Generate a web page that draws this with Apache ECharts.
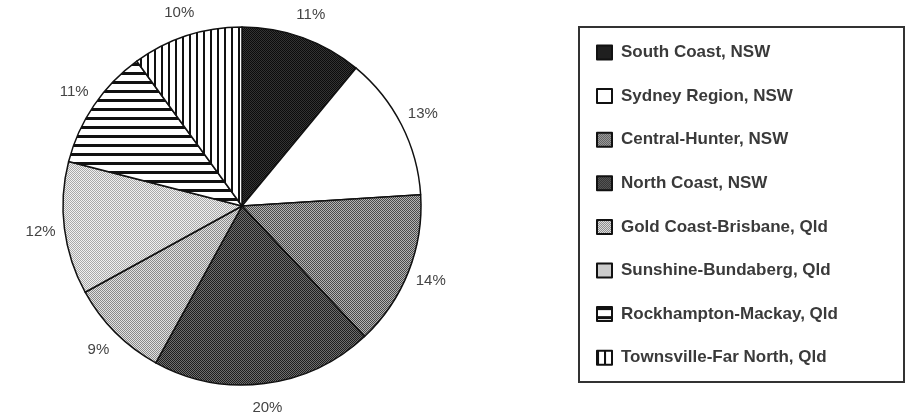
<!DOCTYPE html>
<html>
<head>
<meta charset="UTF-8">
<title>Regions</title>
<script src="https://cdn.jsdelivr.net/npm/echarts@6/dist/echarts.min.js"></script>
<style>
  html, body { margin: 0; padding: 0; background: #fff; }
  #main { width: 908px; height: 414px; }
</style>
</head>
<body>
<div id="main"></div>
<script>
var regions = ['South Coast, NSW', 'Sydney Region, NSW', 'Central-Hunter, NSW', 'North Coast, NSW',
  'Gold Coast-Brisbane, Qld', 'Sunshine-Bundaberg, Qld', 'Rockhampton-Mackay, Qld', 'Townsville-Far North, Qld'];
var shares = [11, 13, 14, 20, 9, 12, 11, 10];

// little canvas tiles that stand in for the old print fill patterns
function checker(a, b) {
  var c = document.createElement('canvas');
  c.width = 2; c.height = 2;
  var ctx = c.getContext('2d');
  ctx.fillStyle = b; ctx.fillRect(0, 0, 2, 2);
  ctx.fillStyle = a; ctx.fillRect(0, 0, 1, 1); ctx.fillRect(1, 1, 1, 1);
  return { image: c, repeat: 'repeat' };
}
function stripes(period, thick, vertical) {
  var c = document.createElement('canvas');
  c.width = period; c.height = period;
  var ctx = c.getContext('2d');
  ctx.fillStyle = '#fff'; ctx.fillRect(0, 0, period, period);
  ctx.fillStyle = '#111';
  if (vertical) ctx.fillRect(0, 0, thick, period);
  else ctx.fillRect(0, 0, period, thick);
  return { image: c, repeat: 'repeat' };
}

var fills = [
  checker('#0c0c0c', '#333'),
  '#ffffff',
  checker('#4a4a4a', '#b4b4b4'),
  checker('#1e1e1e', '#6e6e6e'),
  checker('#8a8a8a', '#e2e2e2'),
  checker('#a8a8a8', '#f0f0f0'),
  stripes(9, 3, false),
  stripes(7, 2, true)
];

var sliceData = regions.map(function (name, i) {
  return { name: name, value: shares[i], itemStyle: { color: fills[i] } };
});
var labelData = regions.map(function (name, i) {
  return { name: name, value: shares[i] };
});

var chart = echarts.init(document.getElementById('main'), null, { renderer: 'canvas' });
chart.setOption({
  backgroundColor: '#fff',
  animation: false,
  graphic: [{
    type: 'rect',
    shape: { x: 579, y: 27, width: 325, height: 355 },
    style: { fill: 'none', stroke: '#333', lineWidth: 2 },
    z: 0
  }],
  legend: {
    orient: 'vertical',
    left: 596,
    top: 44,
    padding: 0,
    itemWidth: 15,
    itemHeight: 14,
    itemGap: 26.6,
    icon: 'rect',
    selectedMode: false,
    data: regions,
    textStyle: {
      fontFamily: 'Liberation Sans, Arial, sans-serif',
      fontSize: 17,
      fontWeight: 'bold',
      color: '#3a3a3a',
      lineHeight: 17,
      padding: [0, 0, 0, 4]
    }
  },
  series: [
    {
      type: 'pie',
      center: [242, 206],
      radius: 179,
      startAngle: 90,
      clockwise: true,
      label: { show: false },
      labelLine: { show: false },
      itemStyle: { borderColor: '#111', borderWidth: 1.5 },
      emphasis: { disabled: true },
      data: sliceData
    },
    {
      // transparent ring used only to park the percentage labels outside the pie
      type: 'pie',
      center: [242, 206],
      radius: [176, 224],
      startAngle: 90,
      clockwise: true,
      silent: true,
      itemStyle: { color: 'transparent', borderWidth: 0 },
      label: {
        show: true,
        position: 'inside',
        formatter: '{c}%',
        fontFamily: 'Liberation Sans, Arial, sans-serif',
        fontSize: 15,
        color: '#444'
      },
      labelLine: { show: false },
      emphasis: { disabled: true },
      data: labelData
    }
  ]
});
</script>
</body>
</html>
